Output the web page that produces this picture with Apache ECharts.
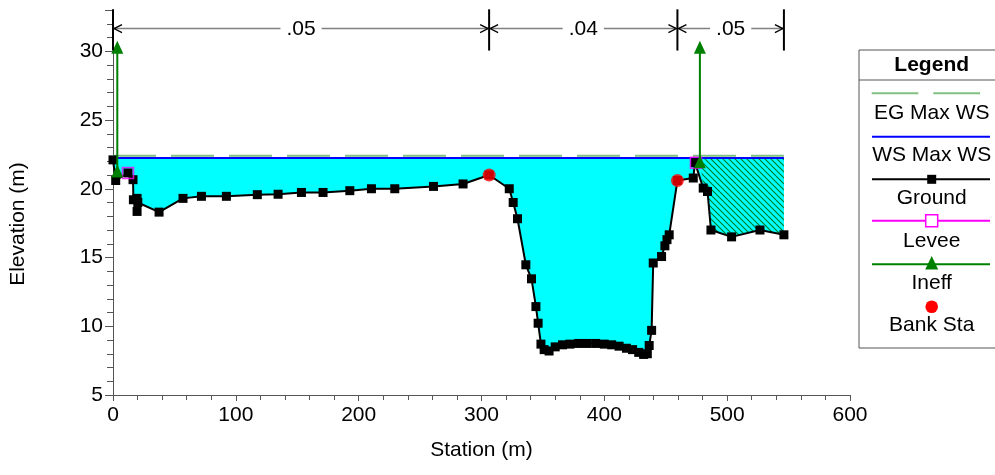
<!DOCTYPE html>
<html><head><meta charset="utf-8">
<script src="https://cdn.jsdelivr.net/npm/echarts@6/dist/echarts.min.js"></script>
<style>html,body{margin:0;padding:0;background:#fff}#c{width:995px;height:475px}</style>
</head><body><div id="c"></div>
<script>
// ---------------- data ----------------
const groundSta = [0, 2.2, 12.2, 16.3, 16.6, 19.6, 19.6, 20.2, 37.5, 57, 72, 92.3, 117.5, 134.4, 153.4, 171, 192.8, 210.4, 229.4, 260.9, 285, 306.2, 322.6, 325.8, 329.3, 336.1, 340.7, 344.3, 346.1, 348.4, 351, 355, 360, 366, 372, 379, 386, 393, 400, 406, 412, 418, 423, 428, 432, 435, 436.5, 438.5, 439.8, 446.6, 449.3, 451, 452.8, 459.5, 472.4, 473.8, 480.5, 484, 486.8, 503.6, 526.7, 546.2];
const groundElev = [22.1, 20.6, 21.15, 20.66, 19.2, 19.3, 18.35, 19.0, 18.3, 19.3, 19.45, 19.45, 19.57, 19.6, 19.73, 19.73, 19.86, 20.0, 20.0, 20.17, 20.35, 21.0, 20.0, 19.0, 17.82, 14.47, 13.45, 11.43, 10.22, 8.7, 8.3, 8.2, 8.5, 8.65, 8.7, 8.75, 8.75, 8.75, 8.7, 8.65, 8.55, 8.4, 8.3, 8.1, 7.95, 8.0, 8.6, 9.7, 14.6, 15.07, 15.85, 16.3, 16.65, 20.6, 20.78, 21.9, 20.05, 19.8, 17.0, 16.5, 17.0, 16.65];
const wsElev = 22.24;          // WS Max WS
const egElev = 22.4;           // EG Max WS
const leveeSta = [12.2, 474.6];
const leveeElev = [21.15, 21.9];
const ineffSta = [3.5, 477.8];
const ineffElev = [21.3, 21.97];
const ineffArrowElev = 30.3;
const bankSta = [306.2, 459.5];
const bankElev = [21.0, 20.6];
const nSta = [0, 306.2, 459.5, 546.2];
const nVal = ['.05', '.04', '.05'];
const xTickValues = [0, 100, 200, 300, 400, 500, 600];
const yTickValues = [5, 10, 15, 20, 25, 30];
const legendNames = ['EG Max WS', 'WS Max WS', 'Ground', 'Levee', 'Ineff', 'Bank Sta'];

// ---------------- helpers ----------------
const FONT = '"Liberation Sans", Arial, sans-serif';
const FS = 21;
const ground = groundSta.map((s, i) => [s, groundElev[i]]);
const lastSta = groundSta[groundSta.length - 1];
const yMin = yTickValues[0], yMax = 33;

// hatch pattern
const pc = document.createElement('canvas');
pc.width = 6; pc.height = 6;
const pctx = pc.getContext('2d');
pctx.fillStyle = '#00ffff'; pctx.fillRect(0, 0, 6, 6);
pctx.strokeStyle = '#007a20'; pctx.lineWidth = 1.1;
pctx.beginPath();
pctx.moveTo(-1, -1); pctx.lineTo(7, 7);
pctx.moveTo(-1, 5); pctx.lineTo(1, 7);
pctx.moveTo(5, -1); pctx.lineTo(7, 1);
pctx.stroke();
const hatch = { image: pc, repeat: 'repeat' };

const chart = echarts.init(document.getElementById('c'), null, { renderer: 'canvas' });

function waterItem(params, api) {
  if (params.dataIndex !== 0) return null;
  const pts = [api.coord([groundSta[0], wsElev]), api.coord([lastSta, wsElev])];
  for (let i = ground.length - 1; i >= 0; i--) pts.push(api.coord(ground[i]));
  return { type: 'polygon', shape: { points: pts }, style: { fill: '#00ffff', stroke: null } };
}
function hatchItem(params, api) {
  if (params.dataIndex !== 0) return null;
  const s0 = ineffSta[1];
  const pts = [api.coord([s0, wsElev]), api.coord([lastSta, wsElev])];
  for (let i = ground.length - 1; i >= 0; i--) if (ground[i][0] >= s0) pts.push(api.coord(ground[i]));
  return { type: 'polygon', shape: { points: pts }, style: { fill: hatch, stroke: null } };
}
function nItem(params, api) {
  if (params.dataIndex !== 0) return null;
  const ch = [];
  const yTop = api.coord([0, 33.05])[1], yBot = api.coord([0, 30.05])[1], yA = api.coord([0, 31.65])[1];
  nSta.forEach((s) => {
    const x = api.coord([s, 30])[0];
    ch.push({ type: 'line', shape: { x1: x, y1: yTop, x2: x, y2: yBot }, style: { stroke: '#000', lineWidth: 2 } });
  });
  for (let i = 0; i < nVal.length; i++) {
    const xa = api.coord([nSta[i], 30])[0] + 1, xb = api.coord([nSta[i + 1], 30])[0] - 1;
    ch.push({ type: 'line', shape: { x1: xa, y1: yA, x2: xb, y2: yA }, style: { stroke: '#808080', lineWidth: 1.5 } });
    ch.push({ type: 'polyline', shape: { points: [[xa + 8, yA - 4], [xa, yA], [xa + 8, yA + 4]] }, style: { stroke: '#000', lineWidth: 1.3, fill: null } });
    ch.push({ type: 'polyline', shape: { points: [[xb - 8, yA - 4], [xb, yA], [xb - 8, yA + 4]] }, style: { stroke: '#000', lineWidth: 1.3, fill: null } });
    ch.push({ type: 'text', x: (xa + xb) / 2, y: yA + 1, style: { text: nVal[i], align: 'center', verticalAlign: 'middle', font: FS + 'px ' + FONT, fill: '#000', backgroundColor: '#fff', padding: [0, 6] } });
  }
  return { type: 'group', children: ch };
}

// legend graphic
const LX = 931.7, L1 = 872, L2 = 990;
const legendTextY = [113.5, 155, 198.5, 241.5, 283.5, 325];
const lg = [
  { type: 'rect', shape: { x: 859, y: 50, width: 160, height: 298 }, style: { fill: '#fff', stroke: '#555', lineWidth: 1 }, z: 100 },
  { type: 'line', shape: { x1: 859, y1: 80, x2: 995, y2: 80 }, style: { stroke: '#555', lineWidth: 1 }, z: 101 },
  { type: 'text', x: LX, y: 65.5, style: { text: 'Legend', align: 'center', verticalAlign: 'middle', font: 'bold ' + FS + 'px ' + FONT, fill: '#000' }, z: 101 },
  { type: 'line', shape: { x1: 871.7, y1: 93.3, x2: 918.3, y2: 93.3 }, style: { stroke: '#80c080', lineWidth: 2 }, z: 101 },
  { type: 'line', shape: { x1: 933.3, y1: 93.3, x2: 980, y2: 93.3 }, style: { stroke: '#80c080', lineWidth: 2 }, z: 101 },
  { type: 'line', shape: { x1: L1, y1: 136.7, x2: L2, y2: 136.7 }, style: { stroke: '#0000ff', lineWidth: 2 }, z: 101 },
  { type: 'line', shape: { x1: L1, y1: 179.3, x2: L2, y2: 179.3 }, style: { stroke: '#000', lineWidth: 2 }, z: 101 },
  { type: 'rect', shape: { x: LX - 4.5, y: 179.3 - 4.5, width: 9, height: 9 }, style: { fill: '#000' }, z: 102 },
  { type: 'line', shape: { x1: L1, y1: 220.7, x2: L2, y2: 220.7 }, style: { stroke: '#ff00ff', lineWidth: 2 }, z: 101 },
  { type: 'rect', shape: { x: LX - 6, y: 220.7 - 6, width: 12, height: 12 }, style: { fill: '#fff', stroke: '#ff00ff', lineWidth: 1.5 }, z: 102 },
  { type: 'line', shape: { x1: L1, y1: 264.3, x2: L2, y2: 264.3 }, style: { stroke: '#008000', lineWidth: 2 }, z: 101 },
  { type: 'polygon', shape: { points: [[LX - 6.5, 269.5], [LX + 6.5, 269.5], [LX, 256]] }, style: { fill: '#008000' }, z: 102 },
  { type: 'circle', shape: { cx: LX, cy: 306.7, r: 6.3 }, style: { fill: '#ff0000' }, z: 102 },
  { type: 'text', x: 18, y: 224, rotation: Math.PI / 2, style: { text: 'Elevation (m)', align: 'center', verticalAlign: 'middle', font: FS + 'px ' + FONT, fill: '#000' }, z: 101 }
];
legendNames.forEach((n, i) => {
  lg.push({ type: 'text', x: LX, y: legendTextY[i], style: { text: n, align: 'center', verticalAlign: 'middle', font: FS + 'px ' + FONT, fill: '#000' }, z: 101 });
});

const option = {
  animation: false,
  backgroundColor: '#fff',
  textStyle: { fontFamily: FONT },
  grid: { left: 113, right: 145, top: 10, bottom: 80, containLabel: false },
  xAxis: {
    type: 'value', min: xTickValues[0], max: xTickValues[xTickValues.length - 1], interval: 100,
    axisLine: { show: true, onZero: false, lineStyle: { color: '#555', width: 1 } },
    axisTick: { show: true, length: 6, lineStyle: { color: '#555' } },
    minorTick: { show: true, splitNumber: 5, length: 5, lineStyle: { color: '#555' } },
    splitLine: { show: false },
    axisLabel: { fontSize: FS, color: '#000', margin: 10, fontFamily: FONT },
    name: 'Station (m)', nameLocation: 'middle', nameGap: 45,
    nameTextStyle: { fontSize: FS, color: '#000', fontFamily: FONT }
  },
  yAxis: {
    type: 'value', min: yMin, max: yMax, interval: 5,
    axisLine: { show: true, onZero: false, lineStyle: { color: '#555', width: 1 } },
    axisTick: { show: true, length: 8, lineStyle: { color: '#555' } },
    minorTick: { show: true, splitNumber: 5, length: 6, lineStyle: { color: '#555' } },
    splitLine: { show: false },
    axisLabel: { fontSize: FS, color: '#000', margin: 10, fontFamily: FONT, showMaxLabel: false,
      formatter: v => (yTickValues.indexOf(v) >= 0 ? String(v) : '') }
  },
  graphic: lg,
  series: [
    { type: 'custom', name: 'water', renderItem: waterItem, data: [[0, wsElev]], z: 1, silent: true },
    { type: 'custom', name: 'ineffArea', renderItem: hatchItem, data: [[ineffSta[1], wsElev]], z: 2, silent: true },
    { type: 'line', name: 'EG Max WS', data: [[groundSta[0], egElev], [lastSta, egElev]], symbol: 'none',
      lineStyle: { color: '#80c080', width: 2, type: [43, 15] }, z: 3 },
    { type: 'line', name: 'WS Max WS', data: [[groundSta[0], wsElev], [lastSta, wsElev]], symbol: 'none',
      lineStyle: { color: '#0000ff', width: 2 }, z: 4 },
    { type: 'line', name: 'Ground', data: ground, symbol: 'rect', symbolSize: 9,
      itemStyle: { color: '#000' }, lineStyle: { color: '#000', width: 2 }, z: 5 },
    { type: 'scatter', name: 'Levee', data: leveeSta.map((s, i) => [s, leveeElev[i]]), symbol: 'rect', symbolSize: 11,
      itemStyle: { color: 'rgba(0,0,0,0)', borderColor: '#ff00ff', borderWidth: 1.5 }, z: 6 },
    { type: 'line', name: 'Ineff', data: [[ineffSta[0], ineffElev[0]], [ineffSta[0], ineffArrowElev]], symbol: 'triangle', symbolSize: [12, 13],
      itemStyle: { color: '#008000' }, lineStyle: { color: '#008000', width: 2 }, z: 7 },
    { type: 'line', name: 'Ineff', data: [[ineffSta[1], ineffElev[1]], [ineffSta[1], ineffArrowElev]], symbol: 'triangle', symbolSize: [12, 13],
      itemStyle: { color: '#008000' }, lineStyle: { color: '#008000', width: 2 }, z: 7 },
    { type: 'scatter', name: 'Bank Sta', data: bankSta.map((s, i) => [s, bankElev[i]]), symbol: 'circle', symbolSize: 13,
      itemStyle: { color: '#ff0000' }, z: 8 },
    { type: 'custom', name: 'nValues', renderItem: nItem, data: [[nSta[0], 31.65]], z: 9, clip: false, silent: true }
  ]
};
chart.setOption(option);
</script>
</body></html>
